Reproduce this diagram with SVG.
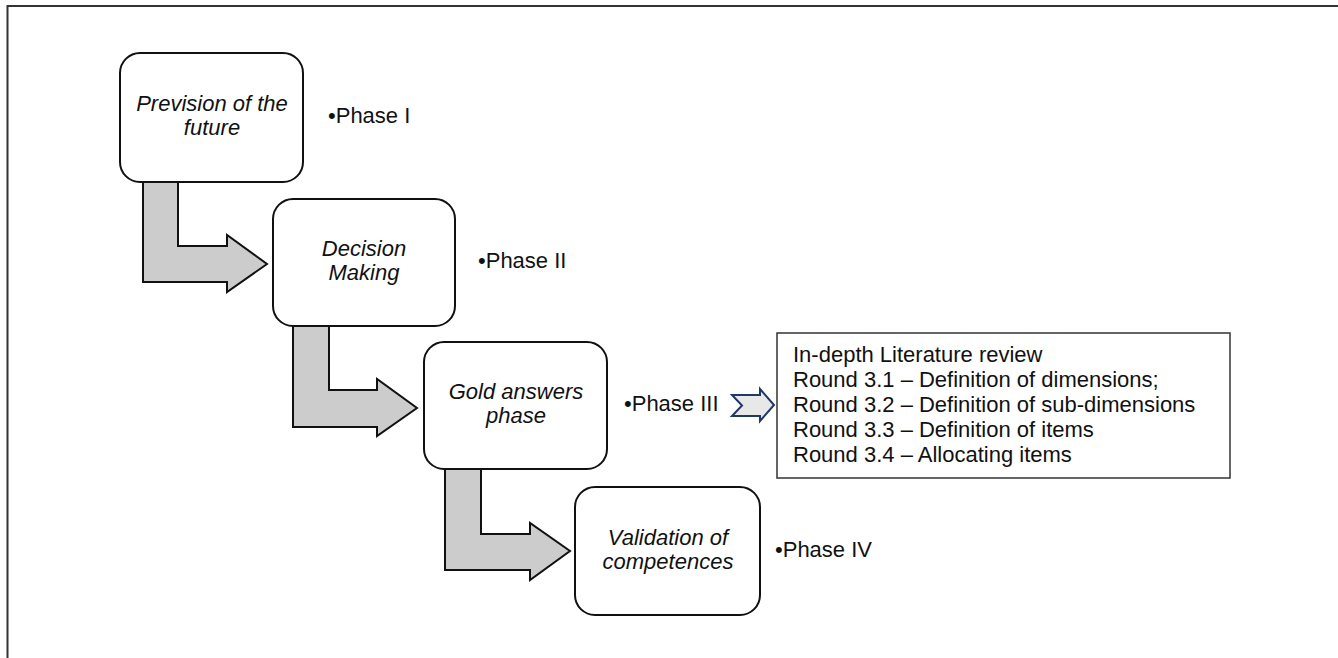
<svg xmlns="http://www.w3.org/2000/svg" width="1338" height="658" viewBox="0 0 1338 658">
<style>
.node{fill:#ffffff;stroke:#111;stroke-width:2}
.ntext{font-family:"Liberation Sans",Arial,sans-serif;font-size:22px;font-style:italic;fill:#111;text-anchor:middle}
.label{font-family:"Liberation Sans",Arial,sans-serif;font-size:22px;fill:#111}
.btext{font-family:"Liberation Sans",Arial,sans-serif;font-size:22px;fill:#111}
.bend{fill:#cccccc;stroke:#111;stroke-width:2;stroke-linejoin:miter}
.frame{fill:none;stroke:#333;stroke-width:2}
</style>
<rect x="0" y="0" width="1338" height="658" fill="#ffffff"/>
<path class="frame" d="M7.5,658 L7.5,6 L1338,6"/>
<g id="connectors">
<path class="bend" d="M143,182 L178,182 L178,246 L227,246 L227,235 L267,264 L227,292 L227,282 L143,282 Z"/>
<path class="bend" d="M293,326 L329,326 L329,390 L377,390 L377,379 L417,408 L377,436 L377,427 L293,427 Z"/>
<path class="bend" d="M445,469 L481,469 L481,534 L530,534 L530,523 L570,551 L530,580 L530,570 L445,570 Z"/>
<path d="M732,395 L760,395 L760,389 L774,405 L760,421 L760,416 L732,416 L742,405.5 Z" fill="#e8e8e8" stroke="#1f3864" stroke-width="2" stroke-linejoin="miter"/>
</g>
<g id="node1">
<rect class="node" x="120" y="53" width="183" height="129" rx="20"/>
<text class="ntext" x="212" y="111">Prevision of the</text>
<text class="ntext" x="212" y="135">future</text>
</g>
<g id="label1"><text class="label" x="328" y="123">•Phase I</text></g>
<g id="node2">
<rect class="node" x="273" y="199" width="182" height="127" rx="20"/>
<text class="ntext" x="364" y="256">Decision</text>
<text class="ntext" x="364" y="280">Making</text>
</g>
<g id="label2"><text class="label" x="478" y="268">•Phase II</text></g>
<g id="node3">
<rect class="node" x="424" y="342" width="183" height="127" rx="20"/>
<text class="ntext" x="516" y="399">Gold answers</text>
<text class="ntext" x="516" y="423">phase</text>
</g>
<g id="label3"><text class="label" x="624" y="411">•Phase III</text></g>
<g id="node4">
<rect class="node" x="575" y="487" width="185" height="128" rx="20"/>
<text class="ntext" x="668" y="545">Validation of</text>
<text class="ntext" x="668" y="569">competences</text>
</g>
<g id="label4"><text class="label" x="775" y="557">•Phase IV</text></g>
<g id="details">
<rect x="777" y="333" width="453" height="145" fill="#ffffff" stroke="#333" stroke-width="1.5"/>
<text class="btext" x="793" y="362">In-depth Literature review</text>
<text class="btext" x="793" y="387">Round 3.1 – Definition of dimensions;</text>
<text class="btext" x="793" y="412">Round 3.2 – Definition of sub-dimensions</text>
<text class="btext" x="793" y="437">Round 3.3 – Definition of items</text>
<text class="btext" x="793" y="462">Round 3.4 – Allocating items</text>
</g>
</svg>
